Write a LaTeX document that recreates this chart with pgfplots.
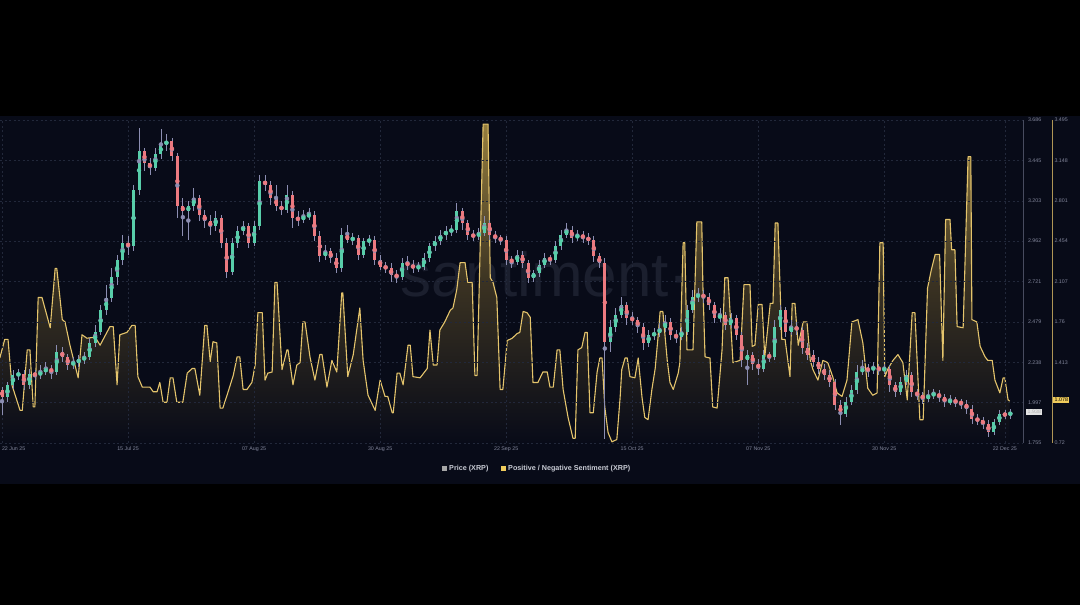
\documentclass[border=0pt]{standalone}
\usepackage{pgfplots}
\usepackage{pgfplotstable}
\usepackage{fontspec}
\pgfplotsset{compat=1.18}
\setmainfont{Liberation Sans}

\definecolor{panel}{RGB}{8,11,24}
\definecolor{gridc}{RGB}{34,40,58}
\definecolor{tickc}{RGB}{130,134,155}
\definecolor{priceaxis}{RGB}{72,76,95}
\definecolor{sentaxis}{RGB}{175,150,85}
\definecolor{upc}{RGB}{88,206,170}
\definecolor{downc}{RGB}{236,122,128}
\definecolor{wickc}{RGB}{140,142,178}
\definecolor{sentline}{RGB}{228,196,108}
\definecolor{filltop}{RGB}{150,126,62}
\definecolor{fillmid}{RGB}{58,50,34}
\definecolor{goldbox}{RGB}{240,204,92}
\definecolor{legc}{RGB}{200,203,212}
\definecolor{wmark}{RGB}{27,31,46}

% daily XRP candles, t = days since 22 Jun 25
\pgfplotstableread{
t o h l c
0 2.07 2.09 1.92 2.03
1 2.03 2.12 2.00 2.10
2 2.10 2.19 2.08 2.16
3 2.16 2.20 2.13 2.17
4 2.17 2.19 2.07 2.10
5 2.10 2.20 2.08 2.17
6 2.17 2.19 2.13 2.16
7 2.16 2.22 2.14 2.18
8 2.18 2.24 2.16 2.20
9 2.20 2.22 2.14 2.18
10 2.18 2.34 2.16 2.30
11 2.30 2.33 2.24 2.27
12 2.27 2.29 2.19 2.22
13 2.22 2.27 2.20 2.24
14 2.24 2.28 2.21 2.25
15 2.25 2.30 2.23 2.27
16 2.27 2.38 2.25 2.35
17 2.35 2.46 2.33 2.42
18 2.42 2.58 2.40 2.55
19 2.55 2.70 2.52 2.62
20 2.62 2.80 2.60 2.75
21 2.75 2.88 2.70 2.85
22 2.85 3.00 2.82 2.95
23 2.95 2.99 2.88 2.93
24 2.93 3.30 2.90 3.27
25 3.27 3.64 3.24 3.50
26 3.50 3.52 3.38 3.43
27 3.43 3.46 3.36 3.40
28 3.40 3.52 3.38 3.48
29 3.48 3.63 3.45 3.54
30 3.54 3.60 3.50 3.56
31 3.56 3.58 3.44 3.47
32 3.47 3.49 3.10 3.17
33 3.17 3.22 2.99 3.14
34 3.14 3.20 2.97 3.17
35 3.17 3.28 3.14 3.22
36 3.22 3.24 3.08 3.12
37 3.12 3.15 3.04 3.08
38 3.08 3.12 3.00 3.05
39 3.05 3.14 3.02 3.10
40 3.10 3.12 2.92 2.95
41 2.95 2.98 2.74 2.78
42 2.78 2.98 2.76 2.95
43 2.95 3.05 2.92 3.02
44 3.02 3.08 3.00 3.05
45 3.05 3.07 2.92 2.95
46 2.95 3.08 2.93 3.05
47 3.05 3.36 3.03 3.32
48 3.32 3.36 3.26 3.30
49 3.30 3.32 3.18 3.22
50 3.22 3.30 3.14 3.17
51 3.17 3.20 3.12 3.15
52 3.15 3.30 3.13 3.24
53 3.24 3.26 3.04 3.10
54 3.10 3.14 3.05 3.09
55 3.09 3.15 3.07 3.11
56 3.11 3.16 3.09 3.12
57 3.12 3.14 2.96 2.99
58 2.99 3.02 2.84 2.87
59 2.87 2.94 2.85 2.90
60 2.90 2.92 2.83 2.86
61 2.86 2.89 2.77 2.80
62 2.80 3.04 2.78 3.00
63 3.00 3.06 2.95 2.97
64 2.97 3.01 2.94 2.98
65 2.98 3.00 2.85 2.88
66 2.88 2.98 2.86 2.96
67 2.96 3.00 2.93 2.97
68 2.97 2.99 2.82 2.85
69 2.85 2.88 2.79 2.81
70 2.81 2.84 2.77 2.80
71 2.80 2.83 2.72 2.76
72 2.76 2.79 2.71 2.75
73 2.75 2.86 2.73 2.83
74 2.83 2.87 2.79 2.82
75 2.82 2.85 2.77 2.80
76 2.80 2.84 2.78 2.81
77 2.81 2.89 2.79 2.86
78 2.86 2.95 2.84 2.93
79 2.93 2.99 2.90 2.96
80 2.96 3.03 2.94 3.00
81 3.00 3.05 2.97 3.02
82 3.02 3.06 2.99 3.03
83 3.03 3.19 3.01 3.14
84 3.14 3.16 3.03 3.07
85 3.07 3.09 2.97 3.00
86 3.00 3.03 2.96 2.99
87 2.99 3.04 2.97 3.01
88 3.01 3.11 2.99 3.07
89 3.07 3.09 2.97 3.00
90 3.00 3.02 2.95 2.98
91 2.98 3.00 2.94 2.97
92 2.97 2.99 2.82 2.85
93 2.85 2.87 2.80 2.84
94 2.84 2.91 2.82 2.88
95 2.88 2.90 2.80 2.83
96 2.83 2.85 2.71 2.74
97 2.74 2.79 2.72 2.77
98 2.77 2.85 2.75 2.82
99 2.82 2.89 2.80 2.86
100 2.86 2.88 2.82 2.85
101 2.85 2.96 2.83 2.93
102 2.93 3.03 2.91 3.00
103 3.00 3.07 2.98 3.03
104 3.03 3.05 2.95 2.98
105 2.98 3.03 2.96 3.00
106 3.00 3.02 2.95 2.98
107 2.98 3.01 2.94 2.97
108 2.97 2.99 2.84 2.87
109 2.87 2.89 2.80 2.83
110 2.83 2.86 1.78 2.36
111 2.36 2.49 2.30 2.45
112 2.45 2.56 2.42 2.52
113 2.52 2.63 2.50 2.58
114 2.58 2.60 2.46 2.50
115 2.50 2.54 2.46 2.49
116 2.49 2.51 2.41 2.45
117 2.45 2.47 2.31 2.35
118 2.35 2.43 2.33 2.40
119 2.40 2.44 2.37 2.41
120 2.41 2.47 2.39 2.44
121 2.44 2.52 2.42 2.48
122 2.48 2.50 2.37 2.40
123 2.40 2.43 2.35 2.39
124 2.39 2.45 2.37 2.42
125 2.42 2.58 2.40 2.55
126 2.55 2.67 2.53 2.63
127 2.63 2.68 2.60 2.64
128 2.64 2.67 2.59 2.63
129 2.63 2.65 2.55 2.58
130 2.58 2.60 2.47 2.50
131 2.50 2.56 2.48 2.52
132 2.52 2.54 2.43 2.46
133 2.46 2.53 2.44 2.50
134 2.50 2.52 2.37 2.40
135 2.40 2.42 2.21 2.25
136 2.25 2.31 2.10 2.28
137 2.28 2.30 2.19 2.23
138 2.23 2.26 2.16 2.20
139 2.20 2.31 2.18 2.28
140 2.28 2.30 2.24 2.27
141 2.27 2.49 2.25 2.45
142 2.45 2.58 2.43 2.55
143 2.55 2.57 2.39 2.42
144 2.42 2.49 2.40 2.45
145 2.45 2.48 2.40 2.43
146 2.43 2.45 2.29 2.32
147 2.32 2.35 2.25 2.28
148 2.28 2.31 2.21 2.24
149 2.24 2.27 2.17 2.20
150 2.20 2.23 2.13 2.16
151 2.16 2.19 2.09 2.12
152 2.12 2.14 1.95 1.98
153 1.98 2.01 1.86 1.93
154 1.93 2.03 1.91 2.00
155 2.00 2.10 1.98 2.07
156 2.07 2.22 2.05 2.18
157 2.18 2.25 2.16 2.20
158 2.20 2.23 2.15 2.19
159 2.19 2.24 2.17 2.21
160 2.21 2.23 2.16 2.19
161 2.19 2.23 2.17 2.20
162 2.20 2.22 2.06 2.10
163 2.10 2.12 2.03 2.06
164 2.06 2.15 2.04 2.12
165 2.12 2.19 2.10 2.16
166 2.16 2.18 2.03 2.06
167 2.06 2.08 2.01 2.04
168 2.04 2.06 1.99 2.02
169 2.02 2.07 2.00 2.04
170 2.04 2.08 2.02 2.05
171 2.05 2.07 2.00 2.03
172 2.03 2.05 1.97 2.00
173 2.00 2.04 1.98 2.01
174 2.01 2.03 1.97 2.00
175 2.00 2.02 1.96 1.99
176 1.99 2.01 1.93 1.96
177 1.96 1.98 1.87 1.90
178 1.90 1.93 1.86 1.89
179 1.89 1.91 1.84 1.87
180 1.87 1.89 1.79 1.82
181 1.82 1.90 1.80 1.88
182 1.88 1.95 1.86 1.93
183 1.93 1.95 1.90 1.92
184 1.92 1.96 1.90 1.94
}\price

% positive / negative sentiment ratio
\pgfplotstableread{
t s
-0.4 1.45
0.5 1.61
1.1 1.61
1.8 1.22
3.3 1.00
3.7 1.00
4.6 1.52
5.1 1.52
5.7 1.03
6.0 1.03
6.6 1.97
7.3 1.97
8.8 1.71
9.7 2.22
10.0 2.22
11.0 1.78
11.5 1.76
12.4 1.56
13.9 1.28
14.6 1.65
15.5 1.62
17.0 1.63
17.9 1.56
19.7 1.72
20.3 1.72
21.0 1.22
21.5 1.65
22.8 1.67
23.7 1.73
24.3 1.73
24.8 1.29
25.6 1.20
27.0 1.20
27.6 1.16
28.3 1.16
28.8 1.24
29.4 1.07
30.1 1.07
30.7 1.28
31.2 1.28
31.9 1.07
33.0 1.07
33.8 1.32
34.7 1.36
35.2 1.36
36.1 1.13
37.0 1.73
37.4 1.73
38.0 1.42
38.5 1.59
39.2 1.58
39.8 1.02
40.3 1.02
41.2 1.15
42.2 1.30
42.9 1.46
43.4 1.46
44.0 1.18
44.7 1.18
45.6 1.24
46.2 1.39
46.7 1.84
47.5 1.84
48.0 1.26
48.5 1.32
49.3 1.33
49.8 2.10
50.2 2.10
51.1 1.35
52.0 1.52
52.2 1.52
53.1 1.22
53.8 1.39
54.4 1.41
54.9 1.76
55.3 1.76
56.2 1.46
57.1 1.26
58.0 1.48
58.4 1.48
59.3 1.20
60.2 1.43
61.1 1.33
62.0 2.01
62.2 2.01
63.1 1.29
64.1 1.48
65.3 1.88
65.9 1.43
66.8 1.13
68.1 1.00
69.0 1.26
69.9 1.12
70.4 1.12
71.2 0.98
71.4 0.98
72.1 1.32
72.6 1.32
73.2 1.22
74.1 1.56
74.5 1.56
75.0 1.29
76.3 1.28
77.6 1.36
78.1 1.69
78.7 1.39
79.4 1.39
79.9 1.69
80.8 1.76
81.8 1.86
82.3 1.88
83.0 2.04
83.6 2.27
84.5 2.27
85.0 2.10
85.8 2.10
86.3 1.30
86.7 1.30
87.8 3.46
88.7 3.46
89.1 2.14
89.6 2.10
90.3 1.97
90.9 1.18
91.4 1.18
92.2 1.60
93.1 1.62
94.0 1.66
94.5 1.67
95.1 1.85
95.8 1.84
96.4 1.80
96.9 1.24
97.8 1.24
98.7 1.33
99.5 1.33
100.0 1.20
100.6 1.20
101.3 1.52
101.8 1.52
102.4 1.18
103.3 0.94
104.2 0.76
104.6 0.76
105.1 1.52
105.8 1.54
106.4 1.67
106.8 1.67
107.3 0.98
107.9 0.98
108.6 1.33
109.1 1.45
109.5 1.45
110.0 1.03
110.6 0.81
111.3 0.73
112.2 0.75
112.8 1.11
113.1 1.35
113.7 1.45
114.1 1.45
114.6 1.29
115.5 1.28
116.1 1.45
116.8 1.11
117.3 0.94
117.9 0.92
118.6 1.18
119.2 1.36
119.7 1.62
120.1 1.85
120.6 1.85
121.4 1.43
121.9 1.24
122.5 1.18
123.4 1.32
123.7 1.41
124.3 2.44
124.6 2.44
125.0 1.52
126.1 1.52
126.8 2.62
127.7 2.62
127.9 2.08
128.3 1.46
129.2 1.45
129.7 1.03
130.5 1.02
131.4 1.52
131.9 2.14
132.5 2.14
133.4 1.41
134.7 1.43
135.4 2.08
136.5 2.08
136.9 1.55
137.4 1.56
138.0 1.91
138.7 1.91
139.2 1.46
140.2 1.92
140.7 1.92
141.1 2.61
141.6 2.61
142.3 1.61
142.9 1.61
143.8 1.29
144.2 1.92
144.7 1.92
145.3 1.56
146.2 1.76
146.9 1.76
147.5 1.43
148.0 1.35
148.9 1.26
149.8 1.43
150.7 1.41
151.6 1.29
152.4 1.15
153.3 1.12
154.2 1.26
155.1 1.76
156.2 1.78
157.1 1.58
158.0 1.19
158.9 1.13
159.7 1.15
160.2 2.44
160.8 2.44
161.1 1.29
161.7 1.36
162.6 1.43
163.5 1.48
164.4 1.41
165.2 1.09
166.1 1.84
166.6 1.84
167.5 0.92
168.1 0.92
168.9 2.05
169.6 2.21
170.3 2.34
171.1 2.34
171.7 1.43
172.2 2.64
173.0 2.64
173.3 2.38
173.9 2.38
174.3 1.72
175.4 1.71
176.3 3.18
176.8 3.18
177.0 1.78
177.9 1.76
178.5 1.55
179.4 1.46
179.9 1.43
180.7 1.43
181.2 1.26
182.1 1.15
182.7 1.28
183.0 1.28
183.6 1.09
183.9 1.08
}\sentiment

\begin{document}
\begin{tikzpicture}[x=1pt,y=1pt]
\useasboundingbox (0,0) rectangle (1080,605);
\fill[black] (0,0) rectangle (1080,605);
\fill[panel] (0,121) rectangle (1080,489);

% watermark
\node[anchor=base west, inner sep=0pt, text=wmark,
      font=\fontsize{62}{62}\selectfont] at (400,308) {santiment·};

% sentiment axis (right, outer)
\begin{axis}[
    at={(0pt,162pt)}, anchor=south west,
    scale only axis, width=1052pt, height=323pt,
    xmin=-0.365, xmax=191.61,
    ymin=0.72, ymax=3.495,
    axis y line*=right, axis x line=none,
    y axis line style={draw=sentaxis, line width=0.8pt},
    ytick={0.72,1.067,1.413,1.76,2.107,2.454,2.801,3.148,3.495},
    yticklabels={0.72,,1.413,1.76,2.107,2.454,2.801,3.148,3.495},
    major tick length=0pt,
    tick label style={font=\fontsize{5.3}{6}\selectfont, text=tickc},
    yticklabel style={anchor=west, xshift=-1pt},
]
\addplot[draw=none, top color=filltop, bottom color=panel, middle color=fillmid]
    table[x=t, y=s] {\sentiment} \closedcycle;
\addplot[sentline, line width=1.1pt, line join=round] table[x=t, y=s] {\sentiment};
\end{axis}

% price axis
\begin{axis}[
    at={(0pt,162pt)}, anchor=south west,
    scale only axis, width=1023pt, height=323pt,
    xmin=-0.365, xmax=186.31,
    ymin=1.755, ymax=3.686,
    axis y line*=right, axis x line*=bottom,
    x axis line style={draw=none},
    y axis line style={draw=priceaxis, line width=0.8pt},
    xtick={0,23,46,69,92,115,138,161,183},
    xticklabels={{\makebox[0pt][l]{22 Jun 25}},15 Jul 25,07 Aug 25,30 Aug 25,22 Sep 25,15 Oct 25,07 Nov 25,30 Nov 25,22 Dec 25},
    ytick={1.755,1.997,2.238,2.479,2.721,2.962,3.203,3.445,3.686},
    yticklabels={1.755,1.997,2.238,2.479,2.721,2.962,3.203,3.445,3.686},
    major tick length=0pt,
    grid=major,
    major grid style={draw=gridc, dash pattern=on 2pt off 2.5pt, line width=0.5pt},
    tick label style={font=\fontsize{5.3}{6}\selectfont, text=tickc},
    yticklabel style={anchor=west, xshift=1.5pt},
    xticklabel style={anchor=north, yshift=-0.5pt},
]
% wicks
\addplot[wickc, only marks, mark=none, forget plot,
    error bars/.cd, y dir=both, y explicit, error mark=none,
    error bar style={wickc, solid, line width=0.7pt}]
    table[x=t, y expr={(\thisrow{h}+\thisrow{l})/2},
          y error expr={(\thisrow{h}-\thisrow{l})/2}] {\price};
% rising bodies
\addplot[upc, only marks, mark=none, forget plot,
    restrict expr to domain={\thisrow{c}-\thisrow{o}}{0:10},
    error bars/.cd, y dir=both, y explicit, error mark=none,
    error bar style={upc, solid, line width=3pt}]
    table[x=t, y expr={(\thisrow{o}+\thisrow{c})/2},
          y error expr={max(abs(\thisrow{c}-\thisrow{o})/2,0.006)}] {\price};
% falling bodies
\addplot[downc, only marks, mark=none, forget plot,
    restrict expr to domain={\thisrow{c}-\thisrow{o}}{-10:-0.0001},
    error bars/.cd, y dir=both, y explicit, error mark=none,
    error bar style={downc, solid, line width=3pt}]
    table[x=t, y expr={(\thisrow{o}+\thisrow{c})/2},
          y error expr={max(abs(\thisrow{c}-\thisrow{o})/2,0.006)}] {\price};
\end{axis}

% last value boxes
\node[fill=goldbox, text=black, inner xsep=1.5pt, inner ysep=1pt, anchor=west,
      font=\fontsize{5.3}{6}\selectfont] at (1053,205) {1.078};
\node[fill=white!78!gray, text=white!40!gray, inner xsep=1.5pt, inner ysep=1pt, anchor=west,
      font=\fontsize{5.3}{6}\selectfont] at (1026,193) {1.938};

% legend
\fill[gray!70] (442,134) rectangle (446.5,138.5);
\node[anchor=west, inner sep=0pt, text=legc, font=\fontsize{7.2}{8}\selectfont\bfseries]
    at (449,136.2) {Price (XRP)};
\fill[goldbox] (501,134) rectangle (505.5,138.5);
\node[anchor=west, inner sep=0pt, text=legc, font=\fontsize{7.2}{8}\selectfont\bfseries]
    at (508,136.2) {Positive / Negative Sentiment (XRP)};
\end{tikzpicture}
\end{document}
